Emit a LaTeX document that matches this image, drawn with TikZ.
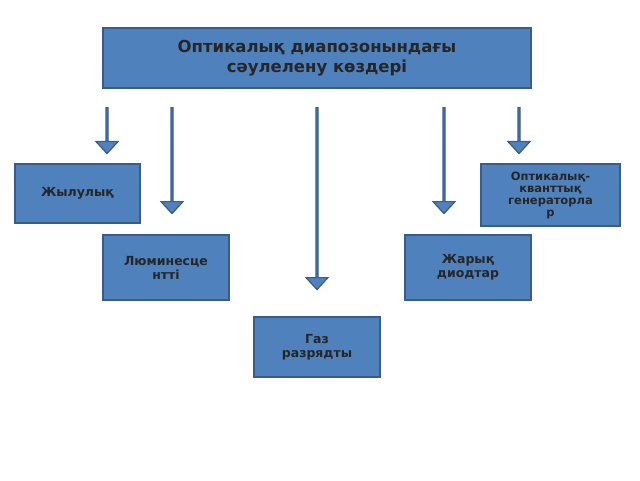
\documentclass[tikz,border=0pt]{standalone}
\usepackage{fontspec}
\setmainfont{DejaVu Sans}
\usetikzlibrary{shapes.arrows}
\definecolor{boxfill}{HTML}{4F81BD}
\definecolor{boxline}{HTML}{385D8A}
\begin{document}
\begin{tikzpicture}[x=1pt,y=-1pt,
  box/.style={draw=boxline,line width=1.5pt,fill=boxfill,inner sep=2pt,align=center,font=\bfseries\fontsize{12.5}{14}\selectfont,text=black!85},
  darrow/.style={single arrow,draw=boxline,line width=1.2pt,fill=boxfill,rotate=-90,minimum width=22pt,single arrow head extend=6pt,inner sep=0pt,single arrow tip angle=85,anchor=tail}]
\useasboundingbox (0,0) rectangle (640,480);
\node[box,minimum width=428pt,minimum height=60pt,font=\bfseries\fontsize{16.5}{20}\selectfont] (title) at (317,58) {Оптикалық диапозонындағы\\сәулелену көздері};
\node[box,minimum width=125pt,minimum height=59pt] (zh) at (77.5,193.5) {Жылулық};
\node[box,minimum width=139pt,minimum height=62pt,font=\bfseries\fontsize{11.5}{12}\selectfont] (ok) at (550.5,195) {Оптикалық-\\кванттық\\генераторла\\р};
\node[box,minimum width=126pt,minimum height=65pt] (lum) at (166,267.5) {Люминесце\\нтті};
\node[box,minimum width=126pt,minimum height=65pt] (dio) at (468,267.5) {Жарық\\диодтар};
\node[box,minimum width=126pt,minimum height=60pt] (gaz) at (317,347) {Газ\\разрядты};
\node[darrow,minimum height=46pt] (a1) at (107,107) {};
\node[darrow,minimum height=106pt] (a2) at (172,107) {};
\node[darrow,minimum height=182pt] (a3) at (317,107) {};
\node[darrow,minimum height=106pt] (a4) at (444,107) {};
\node[darrow,minimum height=46pt] (a5) at (519,107) {};
\end{tikzpicture}
\end{document}
